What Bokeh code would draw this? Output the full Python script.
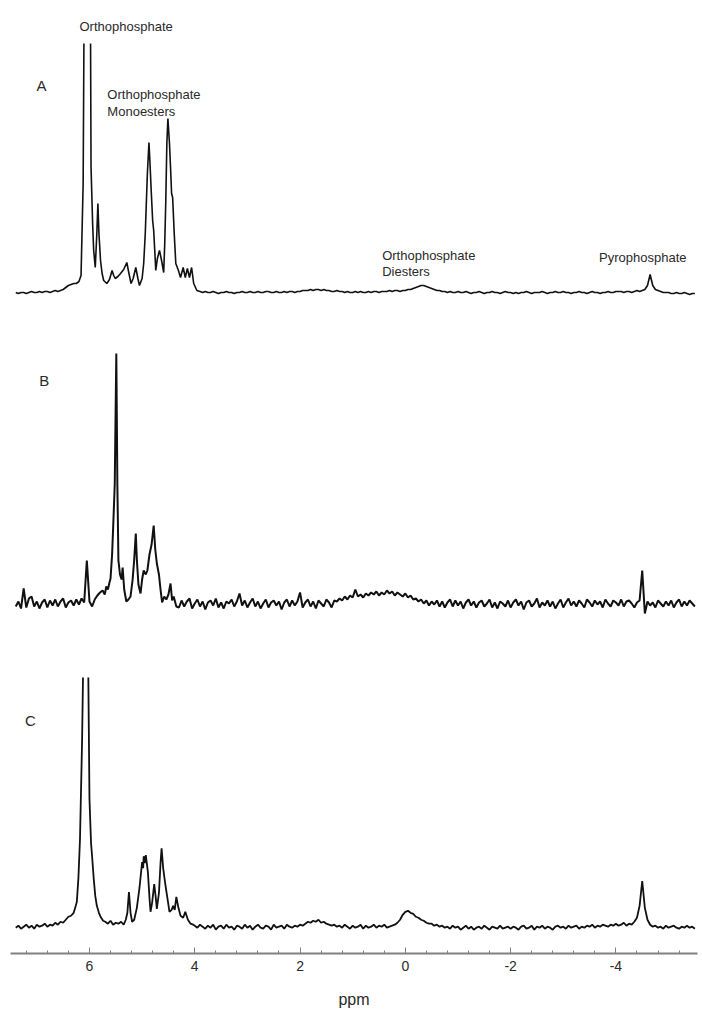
from bokeh.plotting import figure
from bokeh.layouts import column
from bokeh.models import Range1d, Label, FixedTicker, Title
from bokeh.embed import file_html
from bokeh.resources import INLINE

# ---------------- axis ----------------
major_ticks = [6, 4, 2, 0, -2, -4]
tick_labels = ["6", "4", "2", "0", "-2", "-4"]
minor_ticks = [7.2, 6.8, 6.4, 5.6, 5.2, 4.8, 4.4, 3.6, 3.2, 2.8, 2.4, 1.6, 1.2, 0.8, 0.4,
               -0.4, -0.8, -1.2, -1.6, -2.4, -2.8, -3.2, -3.6, -4.4, -4.8, -5.2]
ppm_left, ppm_right = 7.5, -5.55
grid_step = 0.05  # ppm spacing of the digitised baseline samples

# ---------------- spectrum A ----------------
a_left_start = 7.40
a_left = [1, 0, 1, 1, 0, 1, 2, 1, 1, 2, 1, 2, 2, 1, 2, 3, 2, 3, 4, 6, 8]
a_peak_ppm = [6.35, 6.30, 6.25, 6.20, 6.16, 6.12, 6.09, 6.04, 5.99, 5.97, 5.94, 5.92, 5.89,
              5.86, 5.84, 5.82, 5.79, 5.76, 5.73, 5.67, 5.62, 5.57, 5.54, 5.51, 5.46, 5.41,
              5.35, 5.29, 5.25, 5.21, 5.17, 5.12, 5.08, 5.05, 5.00, 4.97, 4.94, 4.90, 4.87,
              4.85, 4.83, 4.80, 4.78, 4.74, 4.71, 4.67, 4.63, 4.59, 4.57, 4.55, 4.53, 4.51,
              4.48, 4.46, 4.44, 4.42, 4.39, 4.36, 4.31, 4.27, 4.22, 4.18, 4.14, 4.10, 4.06,
              4.02, 3.96]
a_peak_int = [9, 10, 10, 12, 18, 110, 400, 900, 400, 126, 70, 43, 26,
              60, 90, 60, 33, 20, 13, 10, 14, 23, 18, 15, 17, 20,
              24, 31, 20, 10, 15, 26, 15, 8, 15, 30, 60, 120, 151,
              130, 106, 73, 63, 23, 35, 43, 33, 21, 50, 93, 150, 175,
              150, 126, 100, 96, 60, 30, 23, 16, 26, 16, 25, 16, 26,
              10, 3]
a_right_start = 3.90
a_right = [2, 1, 2, 1, 1, 2, 1, 0, 1, 1, 2, 1, 1, 0, 1, 1, 2, 1, 1, 2,
           1, 1, 2, 1, 1, 2, 2, 1, 1, 2, 1, 1, 2, 1, 2, 2, 1, 2, 2, 3,
           3, 3, 4, 3, 4, 4, 3, 4, 3, 3, 2, 2, 3, 2, 2, 1, 2, 1, 1, 2,
           1, 2, 1, 1, 2, 1, 2, 2, 1, 2, 2, 2, 3, 2, 3, 3, 2, 3, 3, 4,
           4, 5, 6, 7, 8, 8, 7, 6, 5, 4, 3, 3, 2, 2, 1, 2, 1, 1, 2, 1,
           1, 2, 1, 0, 1, 1, 2, 1, 0, 1, 1, 2, 1, 1, 0, 1, 2, 1, 1, 0,
           1, 0, 1, 1, 2, 1, 0, 1, 1, 1, 2, 1, 0, 1, 1, 2, 1, 1, 2, 1,
           1, 0, 1, 1, 2, 1, 1, 0, 1, 2, 1, 1, 0, 1, 1, 2, 1, 1, 2, 2,
           2, 1, 2, 2, 1, 2, 3, 2, 3, 4, 8, 19, 8, 4, 3, 2, 1, 1, 1, 0,
           0, 1, 0, 0, 1, 0, -1, 0, 0]

# ---------------- spectrum B ----------------
b_left_start = 7.40
b_left = [-2, 3, -4, 16, -3, 6, 8, -2, 3, -4, 2, 5, -3, 4, -1, 5, -2, 3, 6, -3,
          2, 4, -1, 5, 0, 6, 2, 44, 3, -2, 5, 9, 12]
b_peak_ppm = [5.75, 5.71, 5.68, 5.65, 5.62, 5.60, 5.57, 5.55, 5.52, 5.49, 5.47, 5.45, 5.42,
              5.39, 5.37, 5.34, 5.30, 5.26, 5.22, 5.18, 5.15, 5.12, 5.10, 5.07, 5.03, 5.00,
              4.97, 4.93, 4.90, 4.86, 4.82, 4.78, 4.75, 4.72, 4.68, 4.65, 4.62, 4.58, 4.54,
              4.50, 4.46, 4.43, 4.40, 4.35]
b_peak_int = [14, 10, 18, 15, 22, 26, 50, 77, 120, 251, 120, 44, 30,
              25, 37, 15, 3, 5, 8, 25, 45, 71, 45, 20, 11, 25,
              34, 30, 34, 50, 60, 79, 55, 41, 30, 15, 2, 8, 5,
              10, 21, 4, 8, -2]
b_right_start = 4.30
b_right = [-3, 4, -2, 3, 6, -4, 1, 5, -2, 3, -5, 2, 4, -1, 6, -3, 2, -4, 3, 1,
           5, -2, 3, 11, -1, 4, -3, 2, 6, -2, 3, -4, 1, 5, -3, 2, 4, -1, 3, -5,
           2, 5, -2, 4, -1, 3, 12, -3, 2, 5, -2, 3, -4, 4, 1, -2, 5, 2, -3, 4,
           3, 6, 4, 8, 5, 9, 7, 15, 8, 10, 7, 11, 9, 12, 10, 13, 9, 12, 10, 14,
           11, 13, 9, 12, 10, 8, 11, 7, 9, 5, 6, 3, 5, 1, 4, -1, 3, 0, 4, -2,
           3, -3, 2, 5, -2, 4, -1, 3, -4, 2, 5, -1, 3, -3, 2, 4, -2, 1, 5, -3,
           2, -4, 3, 1, -2, 4, -3, 2, 5, -1, 3, -5, 2, 4, -2, 1, 6, -3, 2, -1,
           4, -2, 3, -4, 1, 5, -3, 2, 6, -1, 3, -2, 4, 1, -3, 5, 2, -2, 4, 0,
           3, -3, 5, 1, -2, 4, 2, -1, 5, -2, 3, 4, 1, -3, 2, 4, 34, -9, 3, -1,
           2, -3, 4, 1, -2, 3, -1, 4, -3, 2, 5, -2, 3, -1, 4, 1, -2]

# ---------------- spectrum C ----------------
c_left_start = 7.40
c_left = [0, 2, -1, 1, 3, 0, 2, -1, 3, 1, 2, 4, 1, 3, 2, 5, 3, 6, 5, 8]
c_peak_ppm = [6.40, 6.35, 6.30, 6.26, 6.24, 6.21, 6.18, 6.14, 6.11, 6.07, 6.03, 6.00, 5.97,
              5.95, 5.92, 5.89, 5.86, 5.82, 5.79, 5.74, 5.70, 5.65, 5.60, 5.55, 5.50, 5.45,
              5.40, 5.35, 5.31, 5.28, 5.25, 5.22, 5.19, 5.15, 5.10, 5.05, 5.00, 4.98, 4.97,
              4.95, 4.93, 4.89, 4.86, 4.84, 4.81, 4.77, 4.74, 4.72, 4.68, 4.65, 4.63, 4.60,
              4.56, 4.52, 4.48, 4.44, 4.41, 4.38, 4.35, 4.31, 4.27, 4.22, 4.18, 4.13, 4.08,
              4.03]
c_peak_int = [11, 12, 15, 22, 26, 50, 89, 189, 300, 900, 300, 130, 85,
              72, 50, 32, 22, 15, 11, 7, 6, 4, 7, 3, 5, 4,
              6, 3, 8, 15, 36, 15, 6, 8, 20, 40, 66, 60, 72,
              65, 73, 56, 30, 16, 25, 44, 30, 19, 35, 65, 80, 60,
              44, 30, 16, 18, 22, 18, 31, 20, 12, 10, 16, 8, 4,
              3]
c_right_start = 4.00
c_right = [2, 0, 3, 1, -1, 2, 0, 3, -2, 1, 2, -1, 3, 0, 1, -2, 2, 1, -1, 3,
           0, 2, -2, 1, 3, 0, -1, 2, 1, -2, 3, 0, 1, 2, -1, 3, 1, 0, 2, 1,
           3, 2, 4, 6, 5, 7, 6, 8, 5, 6, 4, 3, 2, 3, 1, 2, 0, 3, 1, -1,
           2, 0, 1, 3, -1, 2, 0, 1, 3, 0, 2, 1, 3, 0, 1, 2, 3, 5, 8, 13,
           16, 17, 15, 14, 11, 10, 8, 7, 5, 4, 4, 2, 3, 1, 2, 0, 1, -1, 2, 0,
           1, -2, 0, 2, -1, 1, -2, 0, 1, -1, 2, 0, -2, 1, 0, -1, 2, -1, 0, 1,
           -1, 1, 0, -2, 1, 2, -1, 0, 2, -2, 1, 0, 2, -1, 1, 0, -2, 1, 2, 0,
           1, -1, 2, 0, 1, 2, -1, 1, 0, 2, 1, 3, 0, 2, 1, 3, 2, 1, 3, 2,
           4, 2, 3, 5, 2, 4, 3, 6, 10, 22, 47, 20, 8, 3, 1, 2, 0, 1, -1, 2,
           0, 1, 2, 0, -1, 1, 0, 2, 0, 1, -1]


def trace(left_start, left_vals, peak_ppm, peak_int, right_start, right_vals):
    xl = [round(left_start - grid_step * i, 3) for i in range(len(left_vals))]
    xr = [round(right_start - grid_step * i, 3) for i in range(len(right_vals))]
    return xl + list(peak_ppm) + xr, list(left_vals) + list(peak_int) + list(right_vals)


FONT = "Liberation Sans"
TXT = "#2a2a2a"
LINE = "#111111"


def make_fig(height, y0, y1, top, bottom, axis):
    p = figure(width=702, height=height,
               x_range=Range1d(ppm_left, ppm_right), y_range=Range1d(y0, y1),
               output_backend="svg", toolbar_location=None,
               x_axis_location="below" if axis else None, y_axis_location=None,
               min_border_left=10, min_border_right=5,
               min_border_top=top, min_border_bottom=bottom)
    p.outline_line_color = None
    p.grid.visible = False
    p.background_fill_color = "white"
    p.border_fill_color = "white"
    return p


def add_label(p, x, y, text, size="13px", align="left"):
    p.add_layout(Label(x=x, y=y, text=text, text_font=FONT, text_font_size=size,
                       text_color=TXT, text_align=align, text_baseline="middle"))


# A
ax, ay = trace(a_left_start, a_left, a_peak_ppm, a_peak_int, a_right_start, a_right)
pA = make_fig(310, -17, 250, 43, 0, False)
pA.line(ax, ay, line_color=LINE, line_width=1.6)
pA.add_layout(Title(text="Orthophosphate", align="left", offset=69, standoff=20,
                    text_font=FONT, text_font_size="13px", text_font_style="normal",
                    text_color=TXT), "above")
add_label(pA, 6.91, 208, "A", size="15px", align="center")
add_label(pA, 5.66, 199, "Orthophosphate")
add_label(pA, 5.66, 182, "Monoesters")
add_label(pA, 0.44, 38, "Orthophosphate")
add_label(pA, 0.44, 22, "Diesters")
add_label(pA, -3.68, 36, "Pyrophosphate")

# B
bx, by = trace(b_left_start, b_left, b_peak_ppm, b_peak_int, b_right_start, b_right)
pB = make_fig(320, -26, 294, 0, 0, False)
pB.line(bx, by, line_color=LINE, line_width=2.0)
add_label(pB, 6.86, 224, "B", size="15px", align="center")

# C
cx, cy = trace(c_left_start, c_left, c_peak_ppm, c_peak_int, c_right_start, c_right)
pC = make_fig(380, -26, 252, 47, 55, True)
pC.line(cx, cy, line_color=LINE, line_width=1.8)
add_label(pC, 7.12, 209, "C", size="15px", align="center")

axis = pC.xaxis[0]
axis.ticker = FixedTicker(ticks=major_ticks, minor_ticks=minor_ticks)
axis.major_label_overrides = {t: s for t, s in zip(major_ticks, tick_labels)}
axis.axis_line_color = "#808080"
axis.axis_line_width = 2
axis.major_tick_line_color = "#808080"
axis.minor_tick_line_color = "#808080"
axis.major_tick_in = 6
axis.major_tick_out = 0
axis.minor_tick_in = 3
axis.minor_tick_out = 0
axis.major_label_text_font = FONT
axis.major_label_text_font_size = "14px"
axis.major_label_text_color = TXT
axis.major_label_standoff = 7
axis.axis_label = "ppm"
axis.axis_label_text_font = FONT
axis.axis_label_text_font_size = "16px"
axis.axis_label_text_font_style = "normal"
axis.axis_label_text_color = TXT
axis.axis_label_standoff = 17

layout = column(pA, pB, pC, spacing=0)
open("out.html", "w").write(file_html(layout, INLINE))
